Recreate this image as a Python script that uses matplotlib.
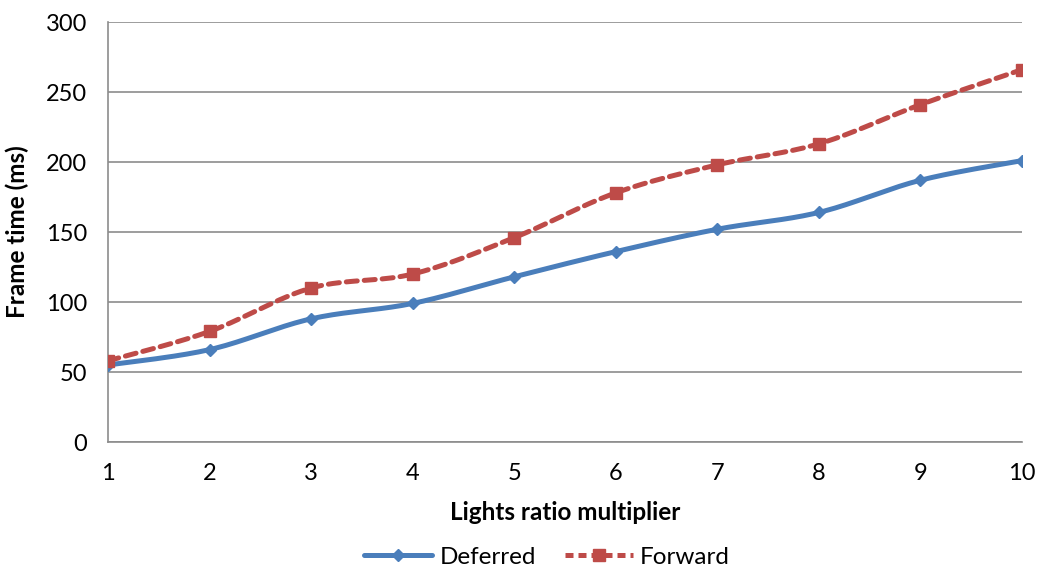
import matplotlib
matplotlib.use('Agg')
import matplotlib.pyplot as plt
import numpy as np

plt.rcParams['font.family'] = ['Lato', 'DejaVu Sans']

multiplier = [1, 2, 3, 4, 5, 6, 7, 8, 9, 10]
deferred = [55, 66, 88, 99, 118, 136, 152, 164, 187, 201]
forward = [58, 79, 110, 120, 146, 178, 198, 213, 241, 266]


def smooth(x, y, n=20):
    # catmull-rom style curve through the points, like Excel's smoothed lines
    x = np.asarray(x, float)
    y = np.asarray(y, float)
    px = np.concatenate([[x[0]], x, [x[-1]]])
    py = np.concatenate([[y[0]], y, [y[-1]]])
    xs, ys = [], []
    t = np.linspace(0, 1, n)
    for i in range(1, len(px) - 2):
        p0, p1, p2, p3 = (np.array([px[j], py[j]]) for j in range(i - 1, i + 3))
        c1 = p1 + (p2 - p0) / 6
        c2 = p2 - (p3 - p1) / 6
        b = ((1 - t) ** 3)[:, None] * p1 + (3 * (1 - t) ** 2 * t)[:, None] * c1 \
            + (3 * (1 - t) * t ** 2)[:, None] * c2 + (t ** 3)[:, None] * p2
        xs.extend(b[:, 0])
        ys.extend(b[:, 1])
    return np.array(xs), np.array(ys)


fig = plt.figure(figsize=(10.46, 5.75), dpi=100)
ax = fig.add_axes([0.1033, 0.2313, 0.8738, 0.7304])

blue = '#4A7EBB'
red = '#BE4B48'
dash = (0, (2.2, 1.4))

sx, sy = smooth(multiplier, deferred)
ax.plot(sx, sy, color=blue, lw=3.6, solid_capstyle='round', zorder=3)
ax.plot(multiplier, deferred, ls='none', marker='D', ms=6.5, color=blue, zorder=4)

sx, sy = smooth(multiplier, forward)
ax.plot(sx, sy, color=red, lw=3.6, ls=dash, dash_capstyle='round', zorder=3)
ax.plot(multiplier, forward, ls='none', marker='s', ms=8, color=red, zorder=4)

h1, = ax.plot([], [], color=blue, lw=3.6, marker='D', ms=6.5, solid_capstyle='round')
h2, = ax.plot([], [], color=red, lw=3.6, ls=(0, (1.6, 1.0)), marker='s', ms=8)

ax.set_xlim(1, 10)
ax.set_ylim(0, 300)
ax.set_yticks(range(0, 301, 50))
ax.set_xticks(multiplier)
ax.grid(axis='y', color='#8C8C8C', lw=1.2)
ax.set_axisbelow(True)
for s in ['top', 'right']:
    ax.spines[s].set_visible(False)
for s in ['left', 'bottom']:
    ax.spines[s].set_color('#8C8C8C')
    ax.spines[s].set_linewidth(1.2)
ax.tick_params(axis='x', length=0, labelsize=17, pad=15)
ax.tick_params(axis='y', length=0, labelsize=17, pad=15)
ax.set_xlabel('Lights ratio multiplier', fontsize=17.5, fontweight='bold', labelpad=12)
ax.set_ylabel('Frame time (ms)', fontsize=17.5, fontweight='bold', labelpad=12)

fig.legend([h1, h2], ['Deferred', 'Forward'], loc='lower center', ncol=2,
           bbox_to_anchor=(0.523, -0.025), frameon=False, fontsize=17.5,
           handlelength=2.8, handletextpad=0.3, columnspacing=1.2)

fig.savefig('out.png', dpi=100)
